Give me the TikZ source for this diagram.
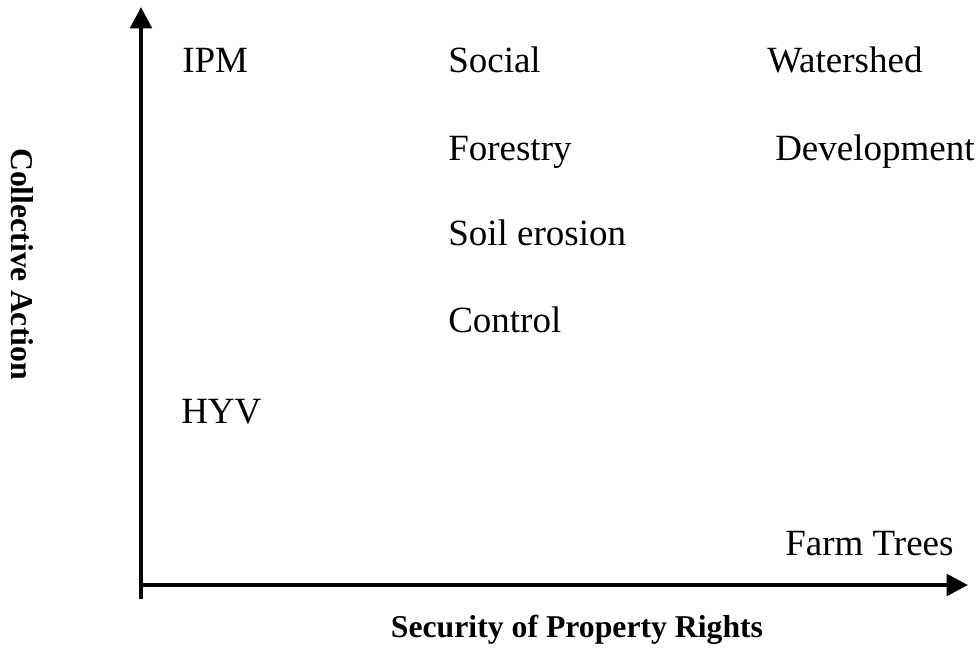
\documentclass[tikz,border=0pt]{standalone}
\usepackage{fontspec}
\setmainfont{Liberation Serif}
\usetikzlibrary{arrows.meta}
\begin{document}
\begin{tikzpicture}[x=0.75pt,y=-0.75pt,
  lbl/.style={inner sep=0pt,anchor=base west,font=\fontsize{27.75pt}{33pt}\selectfont},
  axlbl/.style={inner sep=0pt,anchor=base,font=\fontsize{23.8pt}{28pt}\selectfont\bfseries},
  axis/.style={line width=3pt,-{Triangle[length=16pt,width=16pt]}}]
\useasboundingbox (0,0) rectangle (979,651);
\coordinate (vbot) at (141,599);
\coordinate (vtop) at (141,7);
\coordinate (hleft) at (139,585);
\coordinate (hright) at (968,585);
\draw[axis] (vbot) -- (vtop);
\draw[axis] (hleft) -- (hright);
\node[lbl] (ipm) at (182,72) {IPM};
\node[lbl] (social) at (448,72) {Social};
\node[lbl] (water) at (767,72) {Watershed};
\node[lbl] (forestry) at (448,160) {Forestry};
\node[lbl] (devel) at (775,160) {Development};
\node[lbl] (soil) at (448,245) {Soil erosion};
\node[lbl] (control) at (448,332) {Control};
\node[lbl] (hyv) at (181,423) {HYV};
\node[lbl] (farm) at (785,555) {Farm Trees};
\node[axlbl] (xlab) at (577,637) {Security of Property Rights};
\node[axlbl,rotate=-90] (ylab) at (12,264) {Collective Action};
\end{tikzpicture}
\end{document}
